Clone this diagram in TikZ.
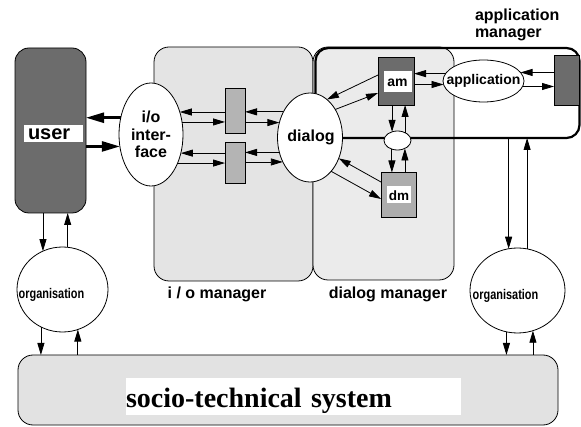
\documentclass[tikz,border=0pt]{standalone}
\usepackage{fontspec}
\setmainfont{Liberation Sans}
\newfontfamily\serifbf{Liberation Serif}
\usepackage{graphicx}
\usetikzlibrary{arrows.meta,shapes.geometric,calc}
\definecolor{mgrfill}{HTML}{E4E4E4}
\definecolor{dmgrfill}{HTML}{EBEBEB}
\definecolor{socfill}{HTML}{E2E2E2}
\definecolor{darkbox}{HTML}{6C6C6C}
\definecolor{midbox}{HTML}{ADADAD}
\definecolor{bufbox}{HTML}{B4B4B4}
\newcommand\fsz[1]{\fontsize{#1}{#1}\selectfont}
\tikzset{
  mgr/.style={rectangle, draw=black, line width=0.8pt, rounded corners=15pt, inner sep=0pt, outer sep=0pt},
  boxr/.style={rectangle, draw=black, line width=0.8pt, inner sep=0pt, outer sep=0pt},
  ell/.style={ellipse, draw=black, fill=white, line width=0.8pt, inner sep=0pt, outer sep=0pt},
  wlbl/.style={fill=white, inner sep=0pt, outer sep=0pt},
  txt/.style={inner sep=0pt, outer sep=0pt},
  arr/.style={line width=0.8pt, -{Triangle[length=12pt,width=7pt]}},
  tarr/.style={line width=2.5pt, -{Triangle[length=18pt,width=10pt]}},
  mlbl/.style={inner sep=0pt, font=\bfseries\fsz{16}, text height=12pt, text depth=4pt}
}
\begin{document}
\begin{tikzpicture}[x=1pt,y=-1pt]
\useasboundingbox (0,0) rectangle (581,427);
\fill[white] (0,0) rectangle (581,427);

% manager boxes
\node[mgr, fill=mgrfill, minimum width=159pt, minimum height=234pt] (iomgr) at (233.5,164) {};
\node[mgr, fill=dmgrfill, minimum width=141pt, minimum height=233pt] (dlgmgr) at (383.5,163.5) {};
\node[rectangle, draw=black, line width=2.2pt, rounded corners=13pt, minimum width=264pt, minimum height=90pt, inner sep=0pt, outer sep=0pt] (appbox) at (447.5,93) {};

\node[mlbl] (iomgrlbl) at (217,295) {i / o manager};
\node[mlbl] (dlgmgrlbl) at (388,295) {dialog manager};
\node[txt, anchor=north west, align=left, font=\bfseries\fontsize{16}{17}\selectfont] (appmgrlbl) at (475,8.5) {application\\manager};

% socio-technical system
\node[mgr, fill=socfill, minimum width=540pt, minimum height=70pt] (socio) at (288,390) {};
\node[wlbl, anchor=west, text width=335pt, align=left, text height=29pt, text depth=8pt, font=\serifbf\bfseries\fsz{28}] (soclbl) at (126,396.5) {socio-technical system};

% user
\node[boxr, fill=darkbox, rounded corners=14pt, minimum width=71pt, minimum height=165pt] (user) at (50.5,130.5) {};
\node[wlbl, anchor=west, inner xsep=4pt, text width=51pt, align=left, text height=15pt, text depth=2pt, font=\bfseries\fsz{20}] (userlbl) at (24,133.5) {user};

% i/o interface
\node[ell, minimum width=64pt, minimum height=103pt, align=center, font=\bfseries\fontsize{16}{17.5}\selectfont] (ioif) at (151,134.5) {i/o\\inter-\\face};

% buffers
\node[boxr, fill=bufbox, minimum width=20pt, minimum height=45pt] (buf1) at (235,110.5) {};
\node[boxr, fill=bufbox, minimum width=20pt, minimum height=41pt] (buf2) at (235,162.5) {};

% dialog
\node[ell, minimum width=65pt, minimum height=89pt] (dialog) at (310,137.5) {};
\node[txt, font=\bfseries\fsz{16}] (dialoglbl) at (311,137.5) {dialog};

% am / dm / junction
\node[boxr, fill=darkbox, minimum width=36pt, minimum height=48pt] (am) at (396,81) {};
\node[wlbl, minimum width=28pt, text height=16pt, text depth=5pt, font=\bfseries\fsz{14}] (amlbl) at (397.5,81.5) {am};
\node[boxr, fill=midbox, minimum width=35pt, minimum height=45pt] (dm) at (398.5,195) {};
\node[wlbl, minimum width=24pt, text height=15pt, text depth=2pt, font=\bfseries\fsz{13.5}] (dmlbl) at (399,194.5) {dm};
\node[ell, minimum width=27pt, minimum height=19pt] (jn) at (397.5,140.5) {};

% application
\node[ell, minimum width=81pt, minimum height=42pt] (app) at (483.5,81) {};
\node[txt, font=\bfseries\fsz{14}] (applbl) at (483.5,81) {application};
\node[boxr, fill=darkbox, minimum width=25pt, minimum height=50pt] (res) at (566.5,80) {};

% organisations
\node[ell, minimum width=91pt, minimum height=85pt] (org1) at (62.5,289.5) {};
\node[txt, font=\bfseries\fsz{14}, text height=10pt, text depth=3pt] (org1lbl) at (51.5,295.5) {\scalebox{0.78}[1]{organisation}};
\node[ell, minimum width=95pt, minimum height=85pt] (org2) at (517.5,290.5) {};
\node[txt, font=\bfseries\fsz{14}, text height=10pt, text depth=3pt] (org2lbl) at (505.5,296) {\scalebox{0.78}[1]{organisation}};

% user <-> i/o interface
\draw[tarr] (ioif.151.4) -- (user.east |- ioif.151.4);
\draw[tarr] (user.east |- ioif.201.9) -- (ioif.201.9);

% i/o interface <-> buffers
\draw[arr] (buf1.west |- ioif.38) -- (ioif.38);
\draw[arr] (ioif.22) -- (buf1.west |- ioif.22);
\draw[arr] (buf2.west |- ioif.328.3) -- (ioif.328.3);
\draw[arr] (ioif.313.1) -- (buf2.west |- ioif.313.1);

% dialog <-> buffers
\draw[arr] (dialog.136.2) -- (buf1.east |- dialog.136.2);
\draw[arr] (buf1.east |- dialog.154.7) -- (dialog.154.7);
\draw[arr] (dialog.206.9) -- (buf2.east |- dialog.206.9);
\draw[arr] (buf2.east |- dialog.222.1) -- (dialog.222.1);

% dialog <-> am, dm
\draw[arr] ([yshift=6pt]am.west) -- (dialog.66);
\draw[arr] (dialog.48) -- ([yshift=-12pt]am.west);
\draw[arr] ([yshift=13pt]dm.west) -- (dialog.324);
\draw[arr] (dialog.302) -- ([yshift=-4pt]dm.west);

% am/dm <-> junction
\draw[arr] (jn.122.3 |- am.south) -- (jn.122.3);
\draw[arr] (jn.46.5) -- (jn.46.5 |- am.south);
\draw[arr] (jn.237.7) -- (jn.237.7 |- dm.north);
\draw[arr] (jn.313.5 |- dm.north) -- (jn.313.5);

% am <-> application <-> resource
\draw[arr] (app.169.6) -- (am.east |- app.169.6);
\draw[arr] (am.east |- app.185.7) -- (app.185.7);
\draw[arr] (res.west |- app.13.8) -- (app.13.8);
\draw[arr] (app.352.7) -- (res.west |- app.352.7);

% application manager <-> organisation (right)
\draw[arr] (org2.102.9 |- appbox.south) -- (org2.102.9);
\draw[arr] (org2.77.1) -- (org2.77.1 |- appbox.south);

% organisation (right) <-> socio
\draw[arr] (org2.255.8) -- (org2.255.8 |- socio.north);
\draw[arr] (org2.291.1 |- socio.north) -- (org2.291.1);

% user <-> organisation (left)
\draw[arr] (org1.117 |- user.south) -- (org1.117);
\draw[arr] (org1.83.9) -- (org1.83.9 |- user.south);

% organisation (left) <-> socio
\draw[arr] (org1.240.2) -- (org1.240.2 |- socio.north);
\draw[arr] (org1.291.2 |- socio.north) -- (org1.291.2);
\end{tikzpicture}
\end{document}
